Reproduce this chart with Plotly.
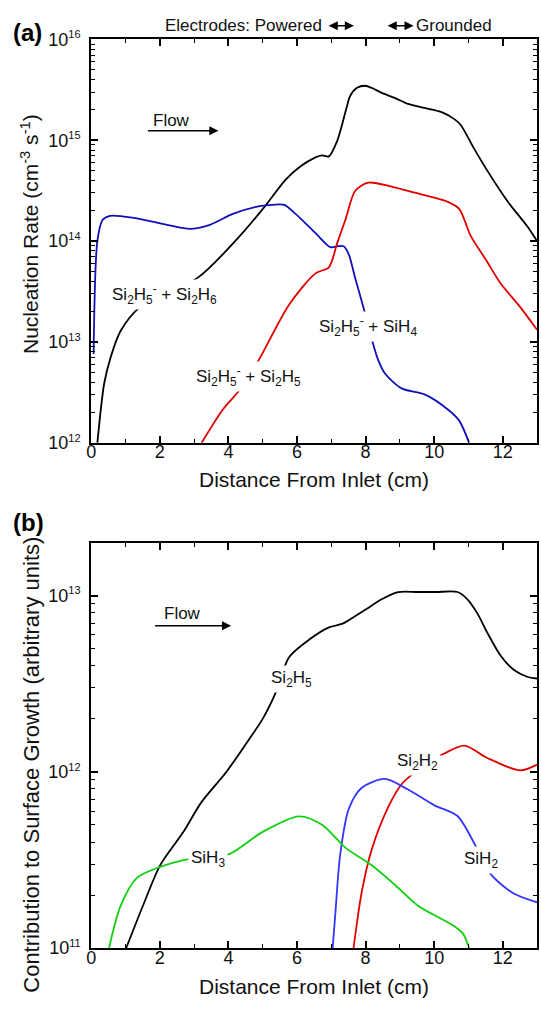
import plotly.graph_objects as go

# ---------------- Panel (a): nucleation rates ----------------
a_black_x = [0.18, 0.38, 0.57, 0.86, 1.44, 3.12, 4.33, 5.1, 5.67, 6.06, 6.54, 6.73, 6.93, 7.17, 7.31, 7.46, 7.55,
             7.75, 7.99, 8.18, 8.47, 8.85, 9.24, 9.72, 10.2, 10.59, 10.78, 11.16, 11.55, 12.13, 12.71, 13.0]
a_black_y = [1.0e12, 3.9e12, 7.1e12, 1.29e13, 2.24e13, 4.37e13, 1.12e14, 2.29e14, 4.07e14, 5.37e14, 6.76e14,
             7.08e14, 6.92e14, 9.8e14, 1.41e15, 2.19e15, 2.75e15, 3.31e15, 3.47e15, 3.31e15, 2.95e15, 2.63e15,
             2.29e15, 2.09e15, 1.91e15, 1.62e15, 1.41e15, 8.3e14, 5.0e14, 2.51e14, 1.41e14, 1.0e14]

a_blue_x = [0.07, 0.18, 0.33, 0.55, 1.24, 2.21, 2.88, 3.46, 4.13, 4.81, 5.29, 5.63, 5.96, 6.54, 6.97, 7.2,
            7.36, 7.51, 7.7, 7.94, 8.18, 8.37, 8.56, 9.05, 9.72, 10.4, 10.73, 11.02]
a_blue_y = [7.6e12, 1.0e14, 1.62e14, 1.78e14, 1.70e14, 1.45e14, 1.32e14, 1.45e14, 1.86e14, 2.19e14,
            2.29e14, 2.29e14, 1.86e14, 1.20e14, 8.7e13, 8.9e13, 8.9e13, 7.4e13, 4.27e13, 2.19e13, 1.07e13,
            6.6e12, 4.9e12, 3.47e12, 3.02e12, 2.14e12, 1.66e12, 1.0e12]

a_red_x = [3.22, 3.84, 4.37, 4.9, 5.77, 6.54, 6.93, 7.17, 7.41, 7.7, 8.08, 8.76, 9.43, 10.4, 10.73, 11.07,
           11.5, 11.94, 12.5, 13.0]
a_red_y = [1.0e12, 2.14e12, 3.47e12, 6.76e12, 2.34e13, 4.79e13, 5.5e13, 9.5e13, 1.62e14, 3.16e14, 3.8e14,
           3.47e14, 3.02e14, 2.45e14, 2.09e14, 1.12e14, 6.6e13, 3.8e13, 2.24e13, 1.32e13]

# ---------------- Panel (b): contributions to surface growth ----------------
b_black_x = [1.02, 1.53, 2.01, 2.69, 3.22, 3.94, 4.52, 5.0, 5.38, 5.77, 6.35, 6.93, 7.31, 7.5, 7.99, 8.47,
             8.95, 9.53, 10.05, 10.68, 10.97, 11.26, 11.55, 11.94, 12.32, 12.71, 13.0]
b_black_y = [1.0e11, 1.78e11, 2.95e11, 4.57e11, 6.76e11, 1.0e12, 1.45e12, 2.0e12, 2.82e12, 4.47e12,
             5.62e12, 6.61e12, 6.92e12, 7.24e12, 8.32e12, 9.55e12, 1.05e13, 1.05e13, 1.05e13, 1.05e13,
             9.55e12, 7.94e12, 6.17e12, 4.57e12, 3.8e12, 3.47e12, 3.39e12]

b_red_x = [7.65, 7.89, 8.18, 8.66, 9.05, 9.38, 9.8, 10.25, 10.88, 11.55, 12.51, 13.0]
b_red_y = [1.0e11, 2.09e11, 3.63e11, 6.31e11, 8.51e11, 9.77e11, 1.15e12, 1.26e12, 1.41e12, 1.2e12,
           1.02e12, 1.1e12]

b_blue_x = [7.04, 7.12, 7.26, 7.51, 7.89, 8.56, 9.24, 10.01, 10.68, 11.21, 11.65, 12.32, 13.0]
b_blue_y = [1.0e11, 1.58e11, 3.39e11, 6.17e11, 8.13e11, 9.12e11, 7.94e11, 6.46e11, 5.62e11, 3.8e11,
            2.63e11, 2.04e11, 1.82e11]

b_green_x = [0.52, 0.86, 1.34, 2.01, 2.69, 3.4, 4.04, 5.0, 6.06, 6.73, 7.41, 8.18, 8.85, 9.53, 10.59,
             10.85, 11.02]
b_green_y = [1.0e11, 1.74e11, 2.51e11, 2.89e11, 3.16e11, 3.3e11, 3.43e11, 4.57e11, 5.6e11, 5.01e11,
             3.72e11, 2.95e11, 2.29e11, 1.74e11, 1.33e11, 1.2e11, 1.0e11]

x_ticks = [0, 2, 4, 6, 8, 10, 12]
x_minor_ticks = [1, 3, 5, 7, 9, 11, 13]
a_decades = [1e12, 1e13, 1e14, 1e15, 1e16]
a_exponents = ["12", "13", "14", "15", "16"]
b_decades = [1e11, 1e12, 1e13]
b_exponents = ["11", "12", "13"]
minor_mult = [2, 3, 4, 5, 6, 7, 8, 9]

FONT = "Liberation Sans, Arial, sans-serif"
BLACK = "#000000"
A_BLUE = "#1010B8"
RED = "#E00000"
B_BLUE = "#3535FF"
GREEN = "#10D010"
LW = 1.8

fig = go.Figure()


def add_line(x, y, color, xa, ya):
    fig.add_trace(go.Scatter(x=x, y=y, mode="lines", xaxis=xa, yaxis=ya, showlegend=False,
                             line=dict(color=color, width=LW, shape="spline", smoothing=0.8),
                             hoverinfo="skip"))


add_line(a_black_x, a_black_y, BLACK, "x", "y")
add_line(a_blue_x, a_blue_y, A_BLUE, "x", "y")
add_line(a_red_x, a_red_y, RED, "x", "y")
add_line(b_black_x, b_black_y, BLACK, "x2", "y2")
add_line(b_red_x, b_red_y, RED, "x2", "y2")
add_line(b_blue_x, b_blue_y, B_BLUE, "x2", "y2")
add_line(b_green_x, b_green_y, GREEN, "x2", "y2")

W, H = 541, 1010
left, right = 87, 537
a_top, a_bot = 29, 441
b_top, b_bot = 543, 957


def px_to_paper_y(py):
    return (H - py) / H


def minor_vals(decades):
    return [m * d for d in decades for m in minor_mult]


def pow_text(exps):
    return ["10<sup><span style='font-size:11px'>%s</span></sup>" % e for e in exps]


xaxis_common = dict(range=[0, 13], tickmode="array", tickvals=x_ticks, ticktext=[str(v) for v in x_ticks],
                    ticks="inside", ticklen=7, tickwidth=1.5,
                    tickcolor="black", showline=True, linewidth=2, linecolor="black", mirror="allticks",
                    showgrid=False, zeroline=False, ticklabelstandoff=-8,
                    minor=dict(tickmode="array", tickvals=x_minor_ticks, ticks="inside", ticklen=4,
                               tickwidth=1.3, tickcolor="black", showgrid=False),
                    tickfont=dict(family=FONT, size=18, color="#111"))


def yaxis_common(decades, exps):
    return dict(type="log", tickmode="array", tickvals=decades, ticktext=pow_text(exps),
                ticks="inside", ticklen=7, tickwidth=1.5, tickcolor="black",
                showline=True, linewidth=2, linecolor="black", mirror="allticks",
                showgrid=False, zeroline=False, ticklabelstandoff=5,
                minor=dict(tickmode="array", tickvals=minor_vals(decades), ticks="inside", ticklen=4,
                           tickwidth=1.3, tickcolor="black", showgrid=False),
                tickfont=dict(family=FONT, size=18, color="#111"))


fig.update_layout(
    width=W, height=H, margin=dict(l=0, r=0, t=0, b=0),
    paper_bgcolor="white", plot_bgcolor="white",
    font=dict(family=FONT, color="black"),
    xaxis=dict(domain=[left / W, right / W], anchor="y", **xaxis_common),
    yaxis=dict(domain=[px_to_paper_y(a_bot), px_to_paper_y(a_top)], anchor="x", range=[12, 16],
               **yaxis_common(a_decades, a_exponents)),
    xaxis2=dict(domain=[left / W, right / W], anchor="y2", **xaxis_common),
    yaxis2=dict(domain=[px_to_paper_y(b_bot), px_to_paper_y(b_top)], anchor="x2", range=[11, 13.301],
                **yaxis_common(b_decades, b_exponents)),
)

ann = []
LBL = 17


def label(text, x, y, xref, yref):
    ann.append(dict(text=text, x=x, y=y, xref=xref, yref=yref, showarrow=False,
                    font=dict(family=FONT, size=LBL, color="#111"), bgcolor="white", borderpad=2,
                    xanchor="center", yanchor="middle"))


# panel letters
ann.append(dict(text="<b>(a)</b>", x=6 / W, y=px_to_paper_y(22), xref="paper", yref="paper",
                showarrow=False, xanchor="left", yanchor="middle", font=dict(family=FONT, size=24)))
ann.append(dict(text="<b>(b)</b>", x=6 / W, y=px_to_paper_y(522), xref="paper", yref="paper",
                showarrow=False, xanchor="left", yanchor="middle", font=dict(family=FONT, size=24)))

# axis titles
ann.append(dict(text="Nucleation Rate (cm<sup>-3</sup> s<sup>-1</sup>)", x=25 / W, y=px_to_paper_y(228),
                xref="paper", yref="paper", showarrow=False, textangle=-90, xanchor="center",
                yanchor="middle", font=dict(family=FONT, size=21, color="#111")))
ann.append(dict(text="Contribution to Surface Growth (arbitrary units)", x=27 / W, y=px_to_paper_y(770),
                xref="paper", yref="paper", showarrow=False, textangle=-90, xanchor="center",
                yanchor="middle", font=dict(family=FONT, size=22, color="#111")))
ann.append(dict(text="Distance From Inlet (cm)", x=(left + right) / 2 / W, y=px_to_paper_y(478),
                xref="paper", yref="paper", showarrow=False, xanchor="center", yanchor="middle",
                font=dict(family=FONT, size=21, color="#111")))
ann.append(dict(text="Distance From Inlet (cm)", x=(left + right) / 2 / W, y=px_to_paper_y(996),
                xref="paper", yref="paper", showarrow=False, xanchor="center", yanchor="middle",
                font=dict(family=FONT, size=21, color="#111")))

# electrodes
ann.append(dict(text="Electrodes: Powered", x=6.8, y=1.034, xref="x", yref="y domain", showarrow=False,
                xanchor="right", yanchor="middle", font=dict(family=FONT, size=17, color="#111")))
ann.append(dict(text="Grounded", x=9.42, y=1.034, xref="x", yref="y domain", showarrow=False,
                xanchor="left", yanchor="middle", font=dict(family=FONT, size=17, color="#111")))
for (xs, xe) in [(6.88, 7.66), (8.6, 9.4)]:
    ann.append(dict(text="", x=xe, y=1.034, xref="x", yref="y domain", ax=xs, ay=0, axref="x",
                    ayref="pixel", showarrow=True, arrowside="end+start", arrowhead=2, startarrowhead=2,
                    arrowsize=1.3, startarrowsize=1.3, arrowwidth=1.4, arrowcolor="black",
                    standoff=0, startstandoff=0))

# flow arrows
ann.append(dict(text="Flow", x=2.33, y=15.2, xref="x", yref="y", showarrow=False,
                font=dict(family=FONT, size=LBL, color="#111")))
ann.append(dict(text="", x=3.71, y=15.094, xref="x", yref="y", ax=1.61, ay=0, axref="x", ayref="pixel",
                showarrow=True, arrowhead=2, arrowsize=1.3, arrowwidth=1.4, arrowcolor="black"))
ann.append(dict(text="Flow", x=2.66, y=12.9, xref="x2", yref="y2", showarrow=False,
                font=dict(family=FONT, size=LBL, color="#111")))
ann.append(dict(text="", x=4.08, y=12.83, xref="x2", yref="y2", ax=1.82, ay=0, axref="x2", ayref="pixel",
                showarrow=True, arrowhead=2, arrowsize=1.3, arrowwidth=1.4, arrowcolor="black"))

# curve labels (a)
label("Si<sub>2</sub>H<sub>5</sub><sup>-</sup> + Si<sub>2</sub>H<sub>6</sub>", 2.14, 13.47, "x", "y")
label("Si<sub>2</sub>H<sub>5</sub><sup>-</sup> + SiH<sub>4</sub>", 8.06, 13.155, "x", "y")
label("Si<sub>2</sub>H<sub>5</sub><sup>-</sup> + Si<sub>2</sub>H<sub>5</sub>", 4.6, 12.66, "x", "y")
# curve labels (b)
label("Si<sub>2</sub>H<sub>5</sub>", 5.84, 12.53, "x2", "y2")
label("Si<sub>2</sub>H<sub>2</sub>", 9.51, 12.056, "x2", "y2")
label("SiH<sub>3</sub>", 3.41, 11.506, "x2", "y2")
label("SiH<sub>2</sub>", 11.37, 11.5, "x2", "y2")

fig.update_layout(annotations=ann)
fig.write_html("out.html")
